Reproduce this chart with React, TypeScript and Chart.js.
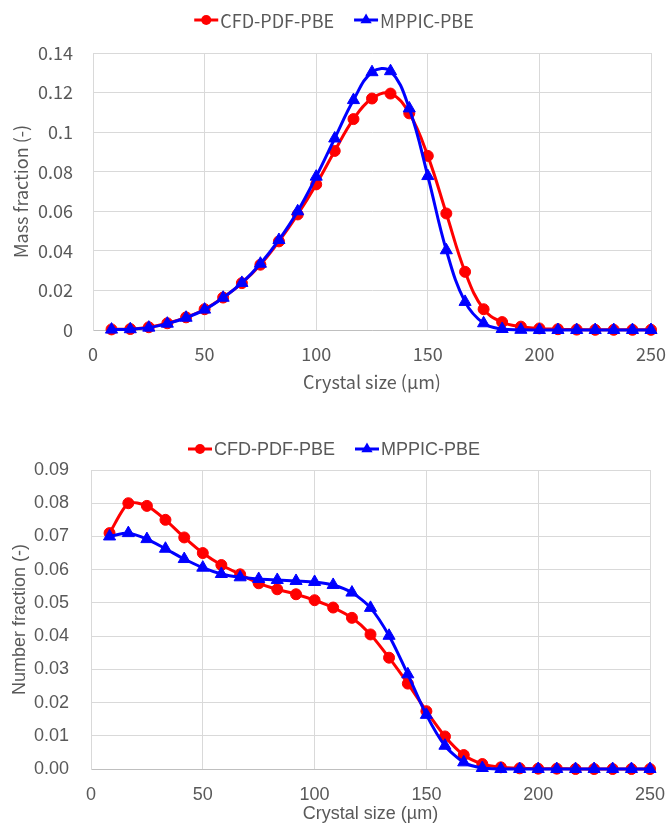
import React, { useEffect, useRef } from "react";
import { Chart, registerables } from "chart.js";

Chart.register(...registerables);

// ---------- data ----------
const crystalSize = [
  8.3, 16.7, 25, 33.3, 41.7, 50, 58.3, 66.7, 75, 83.3, 91.7, 100, 108.3, 116.7, 125,
  133.3, 141.7, 150, 158.3, 166.7, 175, 183.3, 191.7, 200, 208.3, 216.7, 225, 233.3, 241.7, 250,
];

const massCfd = [
  0.0003, 0.0005, 0.0014, 0.0034, 0.0064, 0.0105, 0.0164, 0.0237, 0.033, 0.0448, 0.0584, 0.0736,
  0.0905, 0.1066, 0.117, 0.1195, 0.1095, 0.088, 0.0589, 0.0294, 0.0105, 0.004, 0.0017, 0.0008,
  0.0004, 0.0002, 0.0001, 0.0001, 0.0001, 0.0001,
];

const massMppic = [
  0.0002, 0.0004, 0.0012, 0.0032, 0.0062, 0.0103, 0.0163, 0.0238, 0.0335, 0.0455, 0.06, 0.0775,
  0.0968, 0.1162, 0.1303, 0.1308, 0.112, 0.0778, 0.0403, 0.0142, 0.0034, 0.0005, 0.0001, 0, 0, 0,
  0, 0, 0, 0,
];

const numberCfd = [
  0.071, 0.08, 0.0792, 0.075, 0.0697, 0.065, 0.0614, 0.0586, 0.0559, 0.0541, 0.0526, 0.0508,
  0.0486, 0.0455, 0.0405, 0.0335, 0.0257, 0.0174, 0.0098, 0.0042, 0.0015, 0.0005, 0.0002, 0.0001,
  0.0001, 0, 0, 0, 0, 0,
];

const numberMppic = [
  0.07, 0.071, 0.0692, 0.0663, 0.0632, 0.0606, 0.0587, 0.0577, 0.0572, 0.0569, 0.0566, 0.0563,
  0.0554, 0.0531, 0.0485, 0.0401, 0.0285, 0.0163, 0.007, 0.002, 0.0003, 0, 0, 0, 0, 0, 0, 0, 0, 0,
];

const seriesNames = ["CFD-PDF-PBE", "MPPIC-PBE"];
const xTicks = [0, 50, 100, 150, 200, 250];
const massTicks = [0, 0.02, 0.04, 0.06, 0.08, 0.1, 0.12, 0.14];
const numberTicks = [0, 0.01, 0.02, 0.03, 0.04, 0.05, 0.06, 0.07, 0.08, 0.09];

const xTitle = "Crystal size (µm)";
const massTitle = "Mass fraction (-)";
const numberTitle = "Number fraction (-)";

// ---------- styling ----------
const RED = "#ff0000";
const BLUE = "#0000ff";
const TEXT = "#595959";
const GRID = "#d9d9d9";

const legendPlugin = {
  id: "lineLegend",
  afterDraw(chart: any, _args: any, opts: any) {
    const ctx = chart.ctx as CanvasRenderingContext2D;
    ctx.save();
    ctx.font = `${opts.size}px ${opts.family}`;
    const markerW = 24;
    const gap = 2;
    const itemGap = 20;
    const items = chart.data.datasets.map((ds: any) => ({
      label: ds.label,
      color: ds.borderColor,
      style: ds.pointStyle,
      w: ctx.measureText(ds.label).width,
    }));
    const total =
      items.reduce((s: number, it: any) => s + markerW + gap + it.w, 0) +
      itemGap * (items.length - 1);
    let x = opts.centerX - total / 2;
    const y = opts.y;
    for (const it of items) {
      ctx.strokeStyle = it.color;
      ctx.fillStyle = it.color;
      ctx.lineWidth = 3;
      ctx.beginPath();
      ctx.moveTo(x, y);
      ctx.lineTo(x + markerW, y);
      ctx.stroke();
      const cx = x + markerW / 2;
      ctx.beginPath();
      if (it.style === "circle") {
        ctx.arc(cx, y, 5, 0, Math.PI * 2);
      } else {
        const r = 6.5;
        ctx.moveTo(cx, y - r);
        ctx.lineTo(cx + r * 0.866, y + r * 0.5);
        ctx.lineTo(cx - r * 0.866, y + r * 0.5);
        ctx.closePath();
      }
      ctx.fill();
      ctx.fillStyle = TEXT;
      ctx.textAlign = "left";
      ctx.textBaseline = "middle";
      ctx.fillText(it.label, x + markerW + gap, y + 1);
      x += markerW + gap + it.w + itemGap;
    }
    ctx.restore();
  },
};

type Spec = {
  red: number[];
  blue: number[];
  yMax: number;
  yTicks: number[];
  yFmt: (v: number) => string;
  yTitle: string;
  family: string;
  tension: number;
  padRight: number;
  padTop: number;
  yWidth: number;
  xHeight: number;
  xTickPad: number;
  yTickPad: number;
  xTitlePadBottom: number;
  yTitlePadTop: number;
  legendY: number;
};

function makeConfig(s: Spec): any {
  const font = { family: s.family, size: 18 };
  const mk = (label: string, ys: number[], color: string, style: string, radius: number, order: number) => ({
    label,
    data: crystalSize.map((x, i) => ({ x, y: ys[i] })),
    borderColor: color,
    backgroundColor: color,
    pointBackgroundColor: color,
    pointBorderColor: color,
    pointBorderWidth: 1,
    pointStyle: style,
    pointRadius: radius,
    borderWidth: 3,
    tension: s.tension,
    clip: false,
    order,
  });
  return {
    type: "line",
    data: {
      datasets: [
        mk(seriesNames[0], s.red, RED, "circle", 5.5, 1),
        mk(seriesNames[1], s.blue, BLUE, "triangle", 7, 0),
      ],
    },
    options: {
      animation: false,
      responsive: false,
      devicePixelRatio: 1,
      layout: { padding: { left: 0, right: s.padRight, top: s.padTop, bottom: 0 } },
      plugins: {
        legend: { display: false },
        tooltip: { enabled: false },
        lineLegend: { family: s.family, size: 18, centerX: 334, y: s.legendY },
      },
      scales: {
        x: {
          type: "linear",
          min: 0,
          max: 250,
          afterBuildTicks: (sc: any) => {
            sc.ticks = xTicks.map((v) => ({ value: v }));
          },
          afterFit: (sc: any) => {
            sc.height = s.xHeight;
            sc.paddingLeft = 0;
            sc.paddingRight = 0;
          },
          grid: { color: GRID, lineWidth: 1, drawTicks: false },
          border: { color: "#bfbfbf", width: 1 },
          ticks: { color: TEXT, font, padding: s.xTickPad, maxRotation: 0, callback: (v: number) => String(v) },
          title: {
            display: true,
            text: xTitle,
            color: TEXT,
            font,
            padding: { top: 0, bottom: s.xTitlePadBottom },
          },
        },
        y: {
          type: "linear",
          min: 0,
          max: s.yMax,
          afterBuildTicks: (sc: any) => {
            sc.ticks = s.yTicks.map((v) => ({ value: v }));
          },
          afterFit: (sc: any) => {
            sc.width = s.yWidth;
            sc.paddingTop = 0;
            sc.paddingBottom = 0;
          },
          grid: { color: GRID, lineWidth: 1, drawTicks: false },
          border: { color: GRID, width: 1 },
          ticks: { color: TEXT, font, padding: s.yTickPad, callback: (v: number) => s.yFmt(v) },
          title: {
            display: true,
            text: s.yTitle,
            color: TEXT,
            font,
            padding: { top: s.yTitlePadTop, bottom: 0 },
          },
        },
      },
    },
    plugins: [legendPlugin],
  };
}

const topSpec: Spec = {
  red: massCfd,
  blue: massMppic,
  yMax: 0.14,
  yTicks: massTicks,
  yFmt: (v) => String(Math.round(v * 100) / 100),
  yTitle: massTitle,
  family: "'Noto Sans CJK KR', 'Noto Sans', sans-serif",
  tension: 0.4,
  padRight: 16,
  padTop: 53,
  yWidth: 93,
  xHeight: 82,
  xTickPad: 13,
  yTickPad: 20,
  xTitlePadBottom: 19,
  yTitlePadTop: 10,
  legendY: 20,
};

const bottomSpec: Spec = {
  red: numberCfd,
  blue: numberMppic,
  yMax: 0.09,
  yTicks: numberTicks,
  yFmt: (v) => v.toFixed(2),
  yTitle: numberTitle,
  family: "'Liberation Sans', Arial, sans-serif",
  tension: 0.25,
  padRight: 17,
  padTop: 58,
  yWidth: 91,
  xHeight: 56,
  xTickPad: 15,
  yTickPad: 22,
  xTitlePadBottom: 0,
  yTitlePadTop: 9,
  legendY: 37,
};

function ChartCanvas({ spec, top, height }: { spec: Spec; top: number; height: number }) {
  const ref = useRef<HTMLCanvasElement | null>(null);
  useEffect(() => {
    if (!ref.current) return;
    const chart = new Chart(ref.current, makeConfig(spec));
    return () => chart.destroy();
  }, [spec]);
  return (
    <canvas
      ref={ref}
      width={667}
      height={height}
      style={{ position: "absolute", left: 0, top, width: 667, height, display: "block" }}
    />
  );
}

export default function App() {
  return (
    <div style={{ position: "absolute", left: 0, top: 0, width: 667, height: 825, background: "#fff" }}>
      <ChartCanvas spec={topSpec} top={0} height={412} />
      <ChartCanvas spec={bottomSpec} top={412} height={413} />
    </div>
  );
}
